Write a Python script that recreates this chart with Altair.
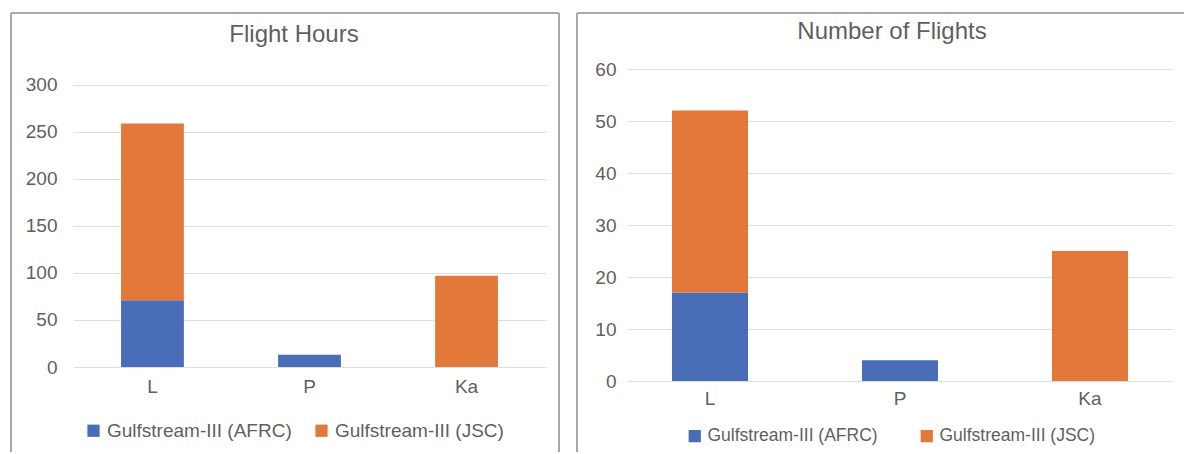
import altair as alt
import pandas as pd

# Categories and series
bands = ["L", "P", "Ka"]
series = ["Gulfstream-III (AFRC)", "Gulfstream-III (JSC)"]
colors = ["#4A6DB8", "#E27839"]

# Flight hours per band
hours_afrc = [71, 13, 0]
hours_jsc = [188, 0, 97]

# Number of flights per band
flights_afrc = [17, 4, 0]
flights_jsc = [35, 0, 25]

hours_ticks = [0, 50, 100, 150, 200, 250, 300]
flights_ticks = [0, 10, 20, 30, 40, 50, 60]

FONT = "Liberation Sans"
TEXT = "#5f5f5f"
GRID = "#dedede"
BORDER = "#a9a9a9"


def long_table(afrc, jsc):
    rows = []
    for i, b in enumerate(bands):
        rows.append({"band": b, "series": series[0], "order": 0, "value": afrc[i]})
        rows.append({"band": b, "series": series[1], "order": 1, "value": jsc[i]})
    return pd.DataFrame(rows)


def rule(x, x2, y, y2):
    return alt.Chart(pd.DataFrame({"k": [0]})).mark_rule(
        stroke=BORDER, strokeWidth=2
    ).encode(x=alt.value(x), x2=alt.value(x2), y=alt.value(y), y2=alt.value(y2))


def panel(title, afrc, jsc, ticks, y_max, w, h, pad_outer, label_pad, xlabel_pad,
          edges, title_xy, legend_xy, legend_font, legend_gap):
    df = long_table(afrc, jsc)
    bars = alt.Chart(df).mark_bar().encode(
        x=alt.X("band:N", sort=bands, title=None,
                scale=alt.Scale(paddingInner=0.6, paddingOuter=pad_outer),
                axis=alt.Axis(labelAngle=0, domain=False, ticks=False, grid=False,
                              labelPadding=xlabel_pad, labelFontSize=19,
                              labelFont=FONT, labelColor=TEXT)),
        y=alt.Y("value:Q", stack="zero", title=None,
                scale=alt.Scale(domain=[ticks[0], y_max], nice=False),
                axis=alt.Axis(values=ticks, domain=False, ticks=False, grid=True,
                              gridColor=GRID, gridWidth=1, labelPadding=label_pad,
                              labelFontSize=19, labelFont=FONT, labelColor=TEXT)),
        color=alt.Color("series:N", sort=series,
                        scale=alt.Scale(domain=series, range=colors),
                        legend=alt.Legend(title=None, orient="none", direction="horizontal",
                                          legendX=legend_xy[0], legendY=legend_xy[1],
                                          symbolType="square", symbolSize=150,
                                          symbolStrokeWidth=0, labelFontSize=legend_font,
                                          labelFont=FONT, labelColor=TEXT, labelLimit=400,
                                          labelOffset=4, columnPadding=legend_gap)),
        order=alt.Order("order:Q"),
    )
    head = alt.Chart(pd.DataFrame({"t": [title]})).mark_text(
        font=FONT, fontSize=24, color=TEXT, align="center", baseline="middle"
    ).encode(text="t:N", x=alt.value(title_xy[0]), y=alt.value(title_xy[1]))
    frame = [rule(*e) for e in edges]
    return alt.layer(*frame, bars, head).properties(width=w, height=h)


# Both plot areas start at the same top; the hours axis runs a little past 300
left = panel("Flight Hours", hours_afrc, hours_jsc, hours_ticks, y_max=317,
             w=473, h=298, pad_outer=0.306, label_pad=16, xlabel_pad=10,
             edges=[(-62, 486, -56, -56), (-62, -62, -56, 383), (486, 486, -56, 383)],
             title_xy=(221, -34), legend_xy=(11, 352), legend_font=19, legend_gap=20)
right = panel("Number of Flights", flights_afrc, flights_jsc, flights_ticks, y_max=60,
              w=546, h=312, pad_outer=0.237, label_pad=11, xlabel_pad=8,
              edges=[(-50, 557, -56, -56), (-50, -50, -56, 383)],
              title_xy=(265, -37), legend_xy=(59, 358), legend_font=17.5, legend_gap=40)

chart = alt.concat(
    left, right, columns=2, spacing=16, align="none", bounds="full"
).resolve_scale(color="independent").resolve_legend(color="independent").configure_view(
    stroke=None
).properties(
    padding={"left": 10, "top": 12, "right": 0, "bottom": 0},
    background="white",
)

chart.save("out.html", embed_options={"renderer": "svg", "actions": False})
